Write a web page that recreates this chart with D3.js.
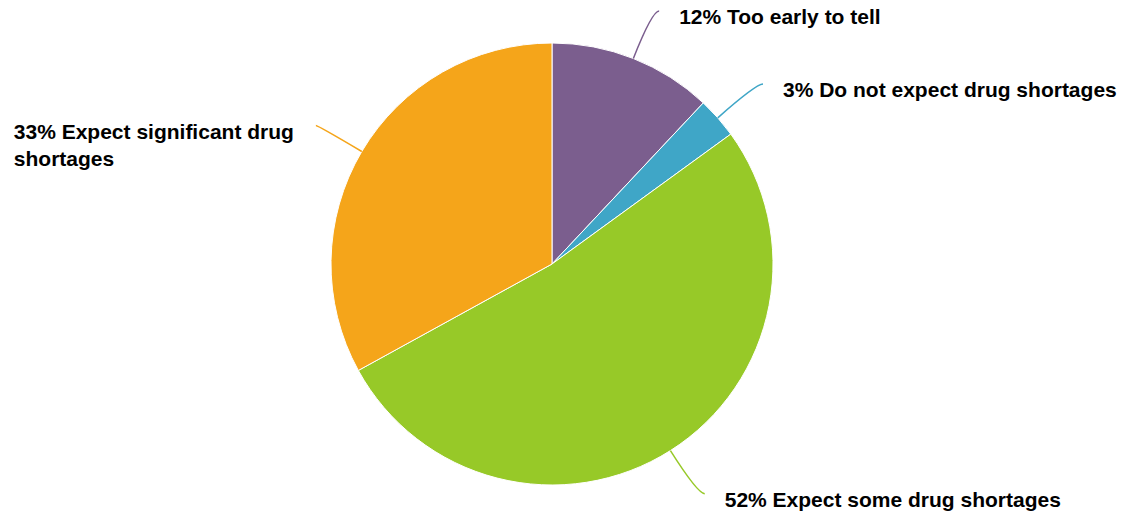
<!DOCTYPE html>
<html>
<head>
<meta charset="utf-8">
<script src="https://cdn.jsdelivr.net/npm/d3@7"></script>
<style>
  html, body { margin: 0; padding: 0; background: #ffffff; }
  svg { display: block; }
  text { font-family: "Liberation Sans", Arial, Helvetica, sans-serif; font-weight: bold; fill: #000; }
</style>
</head>
<body>
<svg id="chart" width="1126" height="516"></svg>
<script>
// ---- data ----
const categories = ["Too early to tell", "Do not expect drug shortages", "Expect some drug shortages", "Expect significant drug shortages"];
const values = [12, 3, 52, 33];
const colors = ["#7b5e8e", "#3fa6c7", "#97c928", "#f5a51a"];

// ---- layout ----
const W = 1126, H = 516;
const cx = 552, cy = 264, R = 221;
const connectorR = R + 51;
const fontSize = 21;
const lineH = 27;

const svg = d3.select("#chart");
const g = svg.append("g").attr("transform", `translate(${cx},${cy})`);

const data = categories.map((c, i) => ({ name: c, value: values[i], color: colors[i] }));
const pie = d3.pie().value(d => d.value).sort(null);
const arcs = pie(data);
const arc = d3.arc().innerRadius(0).outerRadius(R);

g.selectAll("path.slice")
  .data(arcs)
  .join("path")
  .attr("class", "slice")
  .attr("d", arc)
  .attr("fill", d => d.data.color)
  .attr("stroke", "#ffffff")
  .attr("stroke-width", 1);

// connectors and labels
arcs.forEach(a => {
  const mid = (a.startAngle + a.endAngle) / 2;
  const sx = Math.sin(mid), sy = -Math.cos(mid);
  const right = sx >= 0;
  const p0 = [R * sx, R * sy];
  const ctrl = [connectorR * sx, connectorR * sy];
  const end = [ctrl[0] + (right ? 7 : -2), ctrl[1]];

  g.append("path")
    .attr("d", `M${p0[0]},${p0[1]}Q${ctrl[0]},${ctrl[1]} ${end[0]},${end[1]}`)
    .attr("fill", "none")
    .attr("stroke", a.data.color)
    .attr("stroke-width", 1.5);

  const label = `${a.data.value}% ${a.data.name}`;
  const t = g.append("text")
    .attr("font-size", fontSize)
    .attr("y", end[1] + 13);

  if (right) {
    t.attr("x", end[0] + 20).text(label);
  } else {
    // wrap into available width on the left
    const maxW = (cx + end[0] - 22) - 8;
    const words = label.split(" ");
    const lines = [];
    let cur = [];
    const probe = g.append("text").attr("font-size", fontSize).attr("visibility", "hidden");
    words.forEach(w => {
      const test = cur.concat([w]).join(" ");
      probe.text(test);
      if (probe.node().getComputedTextLength() > maxW && cur.length) {
        lines.push(cur.join(" "));
        cur = [w];
      } else {
        cur.push(w);
      }
    });
    if (cur.length) lines.push(cur.join(" "));
    let widest = 0;
    lines.forEach(l => { probe.text(l); widest = Math.max(widest, probe.node().getComputedTextLength()); });
    probe.remove();
    const x0 = end[0] - 22 - widest;
    lines.forEach((l, i) => {
      t.append("tspan").attr("x", x0).attr("dy", i === 0 ? 0 : lineH).text(l);
    });
  }
});
</script>
</body>
</html>
